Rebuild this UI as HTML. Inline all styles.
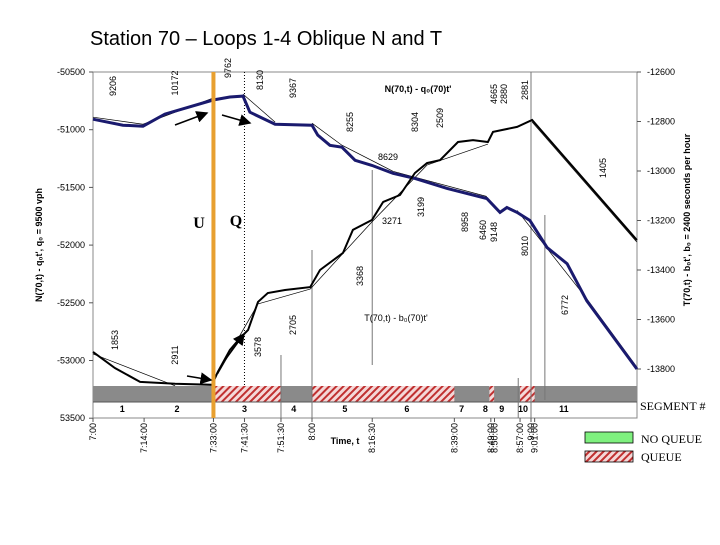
<!DOCTYPE html>
<html><head><meta charset="utf-8">
<style>
body{margin:0;background:#fff;width:720px;height:540px;overflow:hidden;font-family:"Liberation Sans",sans-serif}
svg text{font-family:"Liberation Sans",sans-serif}
svg text.serif{font-family:"Liberation Serif",serif}
</style></head>
<body>
<svg id="c" width="720" height="540" xmlns="http://www.w3.org/2000/svg">
<defs>
<pattern id="hatch" width="5" height="5" patternUnits="userSpaceOnUse" patternTransform="rotate(45)">
<rect width="5" height="5" fill="#f4d8d8"/><rect width="2" height="5" fill="#c03030"/>
</pattern>
<marker id="ah" markerWidth="8" markerHeight="8" refX="7" refY="4" orient="auto"><path d="M0,0 L8,4 L0,8 z" fill="#000"/></marker>
</defs>
<text x="90" y="45" font-size="20">Station 70 – Loops 1-4 Oblique N and T</text>
<g id="g"></g>
</svg>
<script>
const nTimes=[0,8.2,13.7,19.7,32.9,37.5,41.1,43,49.9,60,61.6,64.9,68.2,71.8,76.4,82.2,88.2,97,107.9,111.5,113.4,116.2,119.7,124.4,129.9,135.3,149];
const nValues=[-50909,-50961,-50970,-50865,-50743,-50717,-50709,-50848,-50952,-50961,-51048,-51135,-51152,-51265,-51309,-51378,-51422,-51509,-51596,-51717,-51674,-51717,-51787,-52022,-52161,-52483,-53074];
const tTimes=[0,6,12.9,22.5,32.6,34.2,37.5,40.3,42.5,45.2,47.9,52.6,59.5,62.2,68.5,71.2,76.4,79.5,84.1,88.2,91.5,95.1,100,104.1,108.2,109.6,116.2,120.3,149];
const tValues=[-13731,-13796,-13852,-13860,-13864,-13812,-13723,-13675,-13642,-13529,-13493,-13481,-13469,-13400,-13331,-13238,-13198,-13125,-13097,-13008,-12968,-12956,-12883,-12875,-12883,-12842,-12822,-12794,-13279];
const leftTicks=[-50500,-51000,-51500,-52000,-52500,-53000,-53500];
const rightTicks=[-12600,-12800,-13000,-13200,-13400,-13600,-13800];
const timeTicks=[0,14,33,41.5,51.5,60,76.5,99,109,110,117,120,121];
const timeLabels=["7:00","7:14:00","7:33:00","7:41:30","7:51:30","8:00","8:16:30","8:39:00","8:49:00","8:50:00","8:57:00","9:00","9:01:00"];
const segStarts=[0,33,51.5,60,99,108.6,109.9,117,121];
const segQueue=[0,1,0,1,0,1,0,1,0];
const segNums=["1","2","3","4","5","6","7","8","9","10","11"];
const segNumTimes=[8,23,41.5,55,69,86,101,107.5,112,117.8,129];

const X0=93,X1=637,Y0=72,Y1=418;
const xs=t=>X0+t*3.65;
const yl=v=>Y0+(-50500-v)/500*57.7;
const yr=v=>Y0+(-12600-v)/200*49.5;
const g=document.getElementById('g');
const NS='http://www.w3.org/2000/svg';
function mk(tag,attrs,parent){const e=document.createElementNS(NS,tag);for(const k in attrs)e.setAttribute(k,attrs[k]);(parent||g).appendChild(e);return e;}
function txt(s,x,y,size,rot,anchor,weight){const e=mk('text',{x:x,y:y,'font-size':size,'text-anchor':anchor||'middle','font-weight':weight||'normal'});if(rot)e.setAttribute('transform',`rotate(${rot} ${x} ${y})`);e.textContent=s;return e;}

let e=mk('rect',{x:X0,y:Y0,width:X1-X0,height:Y1-Y0,fill:'none',stroke:'#888'});



const barY=386,barH=16;
e=mk('rect',{x:X0,y:barY,width:X1-X0,height:barH,fill:'#8a8a8a'});


for(let i=0;i<segStarts.length;i++){
 if(!segQueue[i])continue;
 const a=xs(segStarts[i]),b=i+1<segStarts.length?xs(segStarts[i+1]):X1;
 e=mk('rect',{x:a,y:barY,width:b-a,height:barH,fill:'url(#hatch)'});
 
 
}
mk('line',{x1:X0,y1:barY+barH,x2:X1,y2:barY+barH,stroke:'#555'});
segNums.forEach((s,i)=>{e=txt(s,xs(segNumTimes[i]),412,9,0,'middle','bold');
 
 });

[[51.5,355,418],[60,250,418],[76.5,170,365],[116.5,378,418],[120,72,418],[123.8,215,400]].forEach(v=>{
 e=mk('line',{x1:xs(v[0]),y1:v[1],x2:xs(v[0]),y2:v[2],stroke:'#777','stroke-width':1});
 
 
});
e=mk('line',{x1:xs(41.5),y1:Y0,x2:xs(41.5),y2:barY,stroke:'#000','stroke-dasharray':'1,2'});



leftTicks.forEach(v=>{const y=yl(v);mk('line',{x1:X0-4,y1:y,x2:X0,y2:y,stroke:'#555'});
 e=txt(String(v).replace('-53500','53500'),X0-8,y+3,9,0,'end');
 
 });
rightTicks.forEach(v=>{const y=yr(v);mk('line',{x1:X1,y1:y,x2:X1+4,y2:y,stroke:'#555'});
 e=txt(String(v),X1+10,y+3,9,0,'start');
 
 });
timeTicks.forEach((t,i)=>{const x=xs(t);mk('line',{x1:x,y1:Y1,x2:x,y2:Y1+4,stroke:'#555'});
 e=txt(timeLabels[i],x+3,423,9,-90,'end');
 
 });

function path(ts,vs,yf){return ts.map((t,i)=>(i?'L':'M')+xs(t).toFixed(1)+','+yf(vs[i]).toFixed(1)).join(' ');}
// short chord fits hugging the curves
[[0,2],[2,4],[6,8],[9,12],[12,15],[15,18],[21,25],[25,26]].forEach(p=>{
 mk('line',{x1:xs(nTimes[p[0]]),y1:yl(nValues[p[0]])-2,x2:xs(nTimes[p[1]]),y2:yl(nValues[p[1]])-2,stroke:'#000','stroke-width':0.7});
});
[[0,3],[5,9],[9,12],[12,16],[16,20],[20,24],[27,28]].forEach(p=>{
 mk('line',{x1:xs(tTimes[p[0]]),y1:yr(tValues[p[0]])+2,x2:xs(tTimes[p[1]]),y2:yr(tValues[p[1]])+2,stroke:'#000','stroke-width':0.7});
});
e=mk('path',{d:path(nTimes,nValues,yl),fill:'none',stroke:'#1a1a6e','stroke-width':3});


e=mk('path',{d:path(tTimes,tValues,yr),fill:'none',stroke:'#000','stroke-width':2});



e=mk('line',{x1:xs(33),y1:Y0,x2:xs(33),y2:Y1,stroke:'#e8a030','stroke-width':4});



[[175,125,207,113],[222,115,250,123],[187,376,211,380],[225,360,244,334]].forEach(a=>{
 e=mk('line',{x1:a[0],y1:a[1],x2:a[2],y2:a[3],stroke:'#000','stroke-width':1.5,'marker-end':'url(#ah)'});
 
 
});

[["9206",113,86],["10172",175,83],["9762",228,68],["8130",260,80],["9367",293,88],["8255",350,122],["8304",415,122],["2509",440,118],["4665",494,94],["2880",504,94],["2881",525,90],["1405",603,168],["3199",421,207],["8958",465,222],["6460",483,230],["9148",494,232],["8010",525,246],["3368",360,276],["2705",293,325],["3578",258,347],["2911",175,355],["1853",115,340],["6772",565,305]].forEach(l=>{
 e=txt(l[0],l[1]+3,l[2],9,-90,'middle');
 
 
});
[["8629",388,160],["3271",392,224]].forEach(l=>{e=txt(l[0],l[1],l[2],9,0,'middle');
 
 });
e=txt("N(70,t) - q₀(70)t'",418,92,9,0,'middle','bold');


e=txt("T(70,t) - b₀(70)t'",396,321,9,0,'middle');


e=txt("U",199,228,16,0,'middle','bold');e.setAttribute('class','serif');


e=txt("Q",236,226,16,0,'middle','bold');e.setAttribute('class','serif');


e=txt("Time, t",345,444,9,0,'middle','bold');


e=txt("N(70,t) - q₀t', q₀ = 9500 vph",42,245,9,-90,'middle','bold');


e=txt("T(70,t) - b₀t', b₀ = 2400 seconds per hour",690,220,9,-90,'middle','bold');



e=txt("SEGMENT #",640,410,12,0,'start');e.setAttribute('class','serif');


e=mk('rect',{x:585,y:432,width:48,height:11,fill:'#7ff07f',stroke:'#000','stroke-width':0.8});


e=txt("NO QUEUE",641,443,12,0,'start');e.setAttribute('class','serif');


e=mk('rect',{x:585,y:451,width:48,height:11,fill:'url(#hatch)',stroke:'#000','stroke-width':0.8});


e=txt("QUEUE",641,461,12,0,'start');e.setAttribute('class','serif');


</script>
</body></html>
